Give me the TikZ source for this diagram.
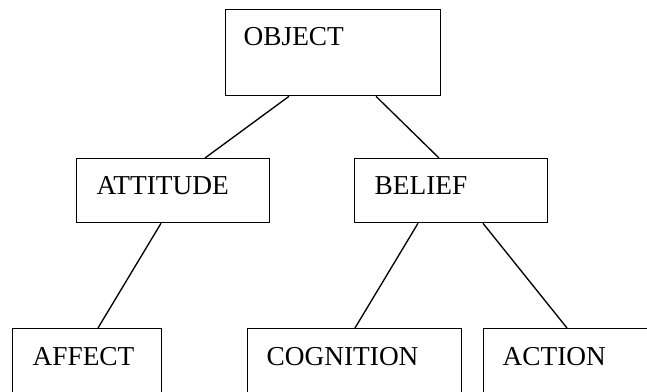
\documentclass[tikz,border=0pt]{standalone}
\usepackage{fontspec}
\setmainfont{Liberation Serif}
\usetikzlibrary{calc}
\tikzset{
  box/.style={draw, line width=1pt, anchor=north west, align=left,
    inner ysep=0pt, text height=27pt, font=\fontsize{20.5}{24}\selectfont},
  link/.style={line width=1pt}
}
\begin{document}
\begin{tikzpicture}[x=0.75pt, y=-0.75pt]
        % Page frame, boxes at the bottom run off it
        \useasboundingbox (0,0) rectangle (647,392);
        \clip (0,0) rectangle (647,392);
        % Top
        \node[box, inner xsep=13.5pt, text width=134.25pt, text depth=37.5pt] (object) at (225,9) {OBJECT};
        % Middle row
        \node[box, inner xsep=15pt, text width=114.75pt, text depth=21pt] (attitude) at (76,158) {ATTITUDE};
        \node[box, inner xsep=15pt, text width=114.75pt, text depth=21pt] (belief) at (354,158) {BELIEF};
        % Bottom row
        \node[box, inner xsep=15pt, text width=81.75pt, text height=27.75pt, text depth=36.75pt] (affect) at (12,328) {AFFECT};
        \node[box, inner xsep=14.25pt, text width=132pt, text height=27.75pt, text depth=36.75pt] (cognition) at (247,328) {COGNITION};
        \node[box, inner xsep=14.25pt, text width=121.5pt, text height=27.75pt, text depth=36.75pt] (action) at (483,328) {ACTION};
        % Links
        \draw[link] ($(object.south west)+(64,0)$) -- ($(attitude.north west)+(129,0)$);
        \draw[link] ($(object.south west)+(151,0)$) -- ($(belief.north west)+(85,0)$);
        \draw[link] ($(attitude.south west)+(85,0)$) -- ($(affect.north west)+(86,0)$);
        \draw[link] ($(belief.south west)+(64,0)$) -- ($(cognition.north west)+(108,0)$);
        \draw[link] ($(belief.south west)+(129,0)$) -- ($(action.north west)+(84,0)$);
    \end{tikzpicture}
\end{document}
